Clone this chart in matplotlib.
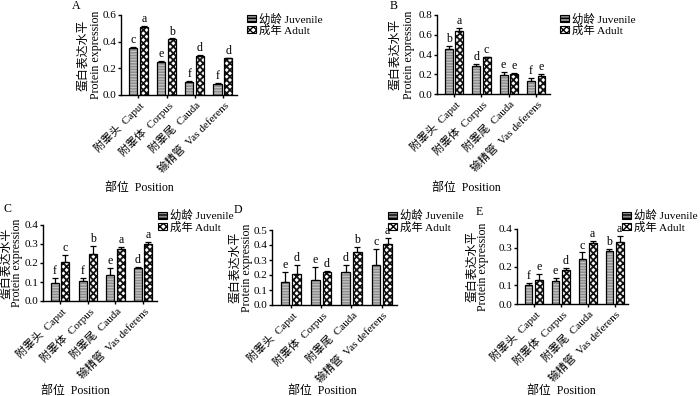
import matplotlib
matplotlib.use("Agg")
import matplotlib.pyplot as plt
from matplotlib.patches import Patch
import numpy as np

plt.rcParams['font.family'] = ['Liberation Serif', 'Noto Sans CJK SC', 'DejaVu Sans']

categories = ["附睾头  Caput", "附睾体  Corpus", "附睾尾  Cauda", "输精管  Vas deferens"]
series_names = ["幼龄 Juvenile", "成年 Adult"]
ylabel_cn = "蛋白表达水平"
ylabel_en = "Protein expression"
xlabel_text = "部位  Position"

A_juv = [0.355, 0.250, 0.100, 0.085]
A_adult = [0.510, 0.420, 0.295, 0.275]
A_juv_err = [0.005, 0.004, 0.004, 0.005]
A_adult_err = [0.005, 0.004, 0.004, 0.005]
A_juv_let = ["c", "e", "f", "f"]
A_adult_let = ["a", "b", "d", "d"]

B_juv = [0.460, 0.280, 0.195, 0.135]
B_adult = [0.635, 0.370, 0.200, 0.185]
B_juv_err = [0.030, 0.020, 0.030, 0.030]
B_adult_err = [0.030, 0.005, 0.010, 0.020]
B_juv_let = ["b", "d", "e", "f"]
B_adult_let = ["a", "c", "e", "e"]

C_juv = [0.095, 0.105, 0.138, 0.175]
C_adult = [0.205, 0.250, 0.275, 0.300]
C_juv_err = [0.025, 0.018, 0.035, 0.002]
C_adult_err = [0.038, 0.040, 0.010, 0.010]
C_juv_let = ["f", "f", "e", "d"]
C_adult_let = ["c", "b", "a", "a"]

D_juv = [0.155, 0.170, 0.220, 0.265]
D_adult = [0.205, 0.220, 0.355, 0.410]
D_juv_err = [0.065, 0.085, 0.050, 0.110]
D_adult_err = [0.065, 0.010, 0.030, 0.035]
D_juv_let = ["e", "e", "d", "c"]
D_adult_let = ["d", "d", "b", "a"]

E_juv = [0.100, 0.125, 0.240, 0.285]
E_adult = [0.130, 0.180, 0.325, 0.330]
E_juv_err = [0.010, 0.012, 0.035, 0.010]
E_adult_err = [0.030, 0.010, 0.010, 0.035]
E_juv_let = ["f", "e", "c", "b"]
E_adult_let = ["e", "d", "a", "a"]

A_yticks = [0.0, 0.2, 0.4, 0.6]
B_yticks = [0.0, 0.2, 0.4, 0.6, 0.8]
C_yticks = [0.0, 0.1, 0.2, 0.3, 0.4]
D_yticks = [0.0, 0.1, 0.2, 0.3, 0.4, 0.5]
E_yticks = [0.0, 0.1, 0.2, 0.3, 0.4]

panels = [
    ("A", A_juv, A_adult, A_juv_err, A_adult_err, A_juv_let, A_adult_let, A_yticks),
    ("B", B_juv, B_adult, B_juv_err, B_adult_err, B_juv_let, B_adult_let, B_yticks),
    ("C", C_juv, C_adult, C_juv_err, C_adult_err, C_juv_let, C_adult_let, C_yticks),
    ("D", D_juv, D_adult, D_juv_err, D_adult_err, D_juv_let, D_adult_let, D_yticks),
    ("E", E_juv, E_adult, E_juv_err, E_adult_err, E_juv_let, E_adult_let, E_yticks),
]

W, H = 700, 396
# axes boxes in pixels: left, top, right, bottom
boxes = [
    (121, 15, 237, 95),
    (437, 15, 550, 94),
    (43, 225, 157, 301),
    (272, 230, 397, 305),
    (517, 229, 628, 304),
]
# x centres (px) of the Chinese and English y-label lines
ylabel_x = [(83, 96), (395, 409), (6, 17.5), (235.5, 247), (472, 483)]
legend_pos = [(247, 13), (560, 13), (158, 210), (388, 210), (622, 210)]
panel_letter_pos = [(72, 0), (390, 0), (3, 203), (234, 204), (476, 206)]
xlabel_pos = [(105, 188), (432, 188), (41, 391), (288, 391), (527, 391)]

fig = plt.figure(figsize=(7.0, 3.96), dpi=100)
FS = 8.6
TFS = 8.0

juv_face = "#8e8e8e"
juv_hatch = "#c4c4c4"

for (name, juv, adult, je, ae, jl, al, yt), box, yx, lp, pp, xp in zip(
        panels, boxes, ylabel_x, legend_pos, panel_letter_pos, xlabel_pos):
    l, t, r, b = box
    ax = fig.add_axes([l / W, 1 - b / H, (r - l) / W, (b - t) / H])
    x = np.arange(len(categories))
    bw = 0.29
    off = 0.19
    with plt.rc_context({'hatch.linewidth': 0.9}):
        ax.bar(x - off, juv, bw, color=juv_face, edgecolor=juv_hatch, hatch="------",
               linewidth=0, zorder=2)
    with plt.rc_context({'hatch.linewidth': 1.3}):
        ax.bar(x + off, adult, bw, color="white", edgecolor="#111111", hatch="xxxxx",
               linewidth=0, zorder=2)
    ax.bar(x - off, juv, bw, fill=False, edgecolor="black", linewidth=0.9, zorder=3)
    ax.bar(x + off, adult, bw, fill=False, edgecolor="black", linewidth=0.9, zorder=3)
    ax.errorbar(x - off, juv, yerr=[np.zeros(4), je], fmt="none", ecolor="black",
                elinewidth=0.9, capsize=2.2, capthick=0.9, zorder=4)
    ax.errorbar(x + off, adult, yerr=[np.zeros(4), ae], fmt="none", ecolor="black",
                elinewidth=0.9, capsize=2.2, capthick=0.9, zorder=4)
    ymax = yt[-1]
    pad = ymax * 0.012
    for xi, v, e, s in zip(x - off, juv, je, jl):
        ax.text(xi, v + e + pad, s, ha="center", va="bottom", fontsize=FS)
    for xi, v, e, s in zip(x + off, adult, ae, al):
        ax.text(xi, v + e + pad, s, ha="center", va="bottom", fontsize=FS)
    ax.set_xlim(-0.62, 3.5)
    ax.set_ylim(0, ymax)
    ax.set_yticks(yt)
    ax.set_yticklabels(["{:.1f}".format(v) for v in yt], fontsize=TFS)
    ax.set_xticks(x)
    ax.set_xticklabels(categories, rotation=45, ha="right", rotation_mode="anchor", fontsize=TFS)
    for s in ["top", "right"]:
        ax.spines[s].set_visible(False)
    for s in ["left", "bottom"]:
        ax.spines[s].set_linewidth(1.0)
    ax.tick_params(axis="both", direction="out", length=2.5, width=1.0, pad=1.0)

    yc = 1 - ((t + b) / 2) / H
    fig.text(yx[0] / W, yc, ylabel_cn, rotation=90, ha="center", va="center", fontsize=FS)
    fig.text(yx[1] / W, yc, ylabel_en, rotation=90, ha="center", va="center", fontsize=FS)

    handles = [Patch(facecolor=juv_face, edgecolor="black", hatch="-----", linewidth=0.8),
               Patch(facecolor="white", edgecolor="black", hatch="xxxxx", linewidth=0.8)]
    fig.legend(handles, series_names, loc="upper left",
               bbox_to_anchor=(lp[0] / W, 1 - lp[1] / H), frameon=False,
               fontsize=TFS + 0.2, handlelength=0.8, handleheight=0.6, handletextpad=0.25,
               labelspacing=0.0, borderpad=0, borderaxespad=0)
    fig.text(pp[0] / W, 1 - pp[1] / H, name, fontsize=FS, ha="left", va="top")
    fig.text(xp[0] / W, 1 - xp[1] / H, xlabel_text, fontsize=FS, ha="left", va="center")

fig.savefig("out.png", dpi=100)
